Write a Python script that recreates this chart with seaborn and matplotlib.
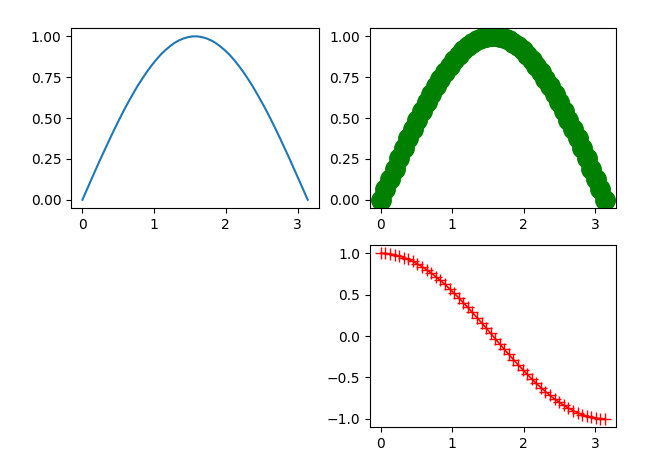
import numpy as np
import matplotlib
matplotlib.use("Agg")
import matplotlib.pyplot as plt
import seaborn as sns

# 读取自图中的数据 (50 个采样点, 0 ~ 3.14)
x_vals = [0.00, 0.064, 0.128, 0.192, 0.256, 0.321, 0.385, 0.449, 0.513, 0.577,
          0.641, 0.705, 0.769, 0.834, 0.898, 0.962, 1.026, 1.090, 1.154, 1.218,
          1.282, 1.346, 1.411, 1.475, 1.539, 1.603, 1.667, 1.731, 1.795, 1.859,
          1.923, 1.988, 2.052, 2.116, 2.180, 2.244, 2.308, 2.372, 2.436, 2.500,
          2.565, 2.629, 2.693, 2.757, 2.821, 2.885, 2.949, 3.013, 3.078, 3.142]

sin_vals = [0.000, 0.064, 0.128, 0.191, 0.254, 0.315, 0.375, 0.434, 0.491, 0.546,
            0.598, 0.648, 0.696, 0.740, 0.782, 0.820, 0.855, 0.887, 0.914, 0.938,
            0.959, 0.975, 0.987, 0.995, 0.9995, 0.9995, 0.995, 0.987, 0.975, 0.959,
            0.938, 0.914, 0.887, 0.855, 0.820, 0.782, 0.740, 0.696, 0.648, 0.598,
            0.546, 0.491, 0.434, 0.375, 0.315, 0.254, 0.191, 0.128, 0.064, 0.000]

cos_vals = [1.000, 0.998, 0.992, 0.982, 0.967, 0.949, 0.927, 0.901, 0.871, 0.838,
            0.801, 0.762, 0.718, 0.672, 0.624, 0.572, 0.518, 0.463, 0.405, 0.346,
            0.285, 0.223, 0.161, 0.098, 0.032, -0.032, -0.098, -0.161, -0.223, -0.285,
            -0.346, -0.405, -0.463, -0.518, -0.572, -0.624, -0.672, -0.718, -0.762, -0.801,
            -0.838, -0.871, -0.901, -0.927, -0.949, -0.967, -0.982, -0.992, -0.998, -1.000]

sin_ticks = [0.00, 0.25, 0.50, 0.75, 1.00]
cos_ticks = [-1.0, -0.5, 0.0, 0.5, 1.0]

x = np.array(x_vals)
y_sin = np.array(sin_vals)
y_cos = np.array(cos_vals)

fig = plt.figure(figsize=(6.59, 4.55), dpi=100)

# 左上: 蓝色实线
ax1 = fig.add_axes([0.108, 0.543, 0.376, 0.395])
sns.lineplot(x=x, y=y_sin, ax=ax1, color='#1f77b4', linewidth=1.5)
ax1.set_yticks(sin_ticks)

# 右上: 绿色大圆点
ax2 = fig.add_axes([0.561, 0.543, 0.374, 0.395])
sns.lineplot(x=x, y=y_sin, ax=ax2, color='green', linestyle='', marker='o',
             markersize=14, markeredgecolor='green', markeredgewidth=1)
ax2.set_yticks(sin_ticks)

# 右下: 红色 + 号连线
ax3 = fig.add_axes([0.561, 0.0615, 0.374, 0.40])
sns.lineplot(x=x, y=y_cos, ax=ax3, color='red', marker='+',
             markersize=8, markeredgecolor='red', markeredgewidth=1, linewidth=1.2)
ax3.set_yticks(cos_ticks)

plt.savefig("out.png", dpi=100)
plt.close()
